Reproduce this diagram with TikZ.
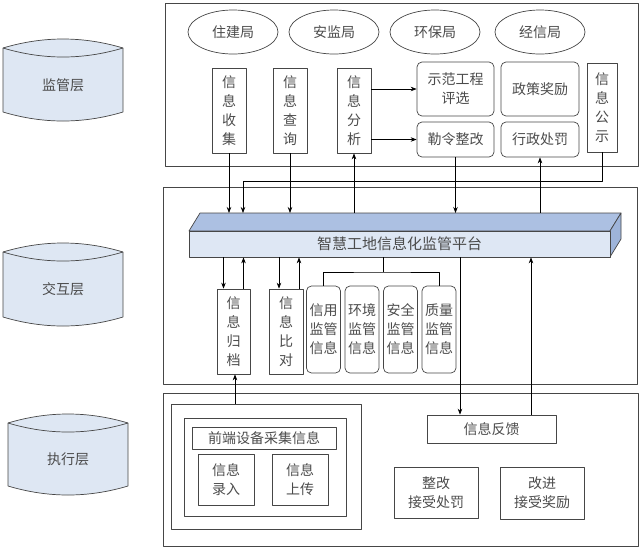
\documentclass[tikz,border=0pt]{standalone}
\usepackage{fontspec}
\setmainfont{Noto Sans CJK SC}
\usetikzlibrary{arrows.meta,shapes.geometric}
\definecolor{linegray}{RGB}{70,70,70}
\definecolor{txtgray}{RGB}{75,75,75}
\definecolor{layerblue}{RGB}{222,231,243}
\definecolor{platfront}{RGB}{222,231,244}
\definecolor{plattop}{RGB}{172,192,226}
\definecolor{platside}{RGB}{158,180,218}
\begin{document}
\begin{tikzpicture}[x=1pt,y=-1pt,line join=round,>={Stealth[length=6pt,width=4.5pt]},line width=.7pt]
	\tikzset{every node/.style={text=txtgray,font=\fontsize{14}{19}\selectfont},
		box/.style={draw=linegray,inner sep=0pt,align=center},
		rbox/.style={box,rounded corners=5pt},
		org/.style={ellipse,draw=linegray,minimum width=90,minimum height=44,inner sep=0pt}}
	\useasboundingbox (0,0) rectangle (641,550);
	% layers on the left
	\foreach \lx/\ly/\lh/\lname/\ltext in {3/48/64/sup/监管层,3/252/65/inter/交互层,8/423/63/exec/执行层}{
		\filldraw[draw=linegray,fill=layerblue] (\lx,\ly) .. controls +(40,-12) and +(-40,-12) .. (\lx+120,\ly) -- (\lx+120,\ly+\lh) .. controls +(-40,12) and +(40,12) .. (\lx,\ly+\lh) -- cycle;
		\draw[linegray] (\lx,\ly) .. controls +(40,12) and +(-40,12) .. (\lx+120,\ly);
		\node (\lname) at (\lx+60,\ly+\lh/2+5) {\ltext};
	}
	% frames
	\draw[linegray] (165,3) rectangle (638,166);
	\draw[linegray] (163,187) rectangle (637,384);
	\draw[linegray] (163,393) rectangle (638,546);
	% supervision layer
	\foreach \ox/\oname/\otext in {233/zj/住建局,334/aj/安监局,435/hb/环保局,540/jx/经信局}
	\node[org] (\oname) at (\ox,32) {\otext};
	\node[box,minimum width=34,minimum height=85] (collect) at (229,110.5) {信\\息\\收\\集};
	\node[box,minimum width=34,minimum height=85] (query) at (290,110.5) {信\\息\\查\\询};
	\node[box,minimum width=34,minimum height=85] (anal) at (354,110.5) {信\\息\\分\\析};
	\node[box,minimum width=30,minimum height=89] (notice) at (602,107.5) {信\\息\\公\\示};
	\node[rbox,minimum width=77,minimum height=54] (demo) at (455.5,89) {示范工程\\评选};
	\node[rbox,minimum width=77,minimum height=35] (order) at (455.5,139.5) {勒令整改};
	\node[rbox,minimum width=78,minimum height=54] (reward) at (540,89) {政策奖励};
	\node[rbox,minimum width=78,minimum height=35] (punish) at (540,139.5) {行政处罚};
	% platform
	\filldraw[draw=linegray,fill=plattop] (189,231) -- (200,213) -- (621,213) -- (610,231) -- cycle;
	\filldraw[draw=linegray,fill=platside] (610,231) -- (621,213) -- (621,239) -- (610,257) -- cycle;
	\node[box,fill=platfront,minimum width=421,minimum height=26,font=\fontsize{15}{17}\selectfont] (plat) at (399.5,244) {智慧工地信息化监管平台};
	\coordinate (ptop) at (400,213);
	% interaction layer
	\node[box,minimum width=33,minimum height=85] (archive) at (233.5,331.5) {信\\息\\归\\档};
	\node[box,minimum width=34,minimum height=85] (compare) at (286,331.5) {信\\息\\比\\对};
	\foreach \ix/\iname/\itext in {323.5/credit/信用,362/env/环境,400.5/safe/安全,439/quality/质量}
	\node[rbox,minimum width=34,minimum height=87] (\iname) at (\ix,329.5) {\itext\\监管\\信息};
	% execution layer
	\node[box,minimum width=190,minimum height=125] (dev) at (266,466.5) {};
	\node[box,minimum width=162,minimum height=98] (devin) at (265,467) {};
	\node[box,minimum width=144,minimum height=22] (front) at (264,438) {前端设备采集信息};
	\node[box,minimum width=56,minimum height=51] (input) at (226,479.5) {信息\\录入};
	\node[box,minimum width=56,minimum height=51] (upload) at (300,479.5) {信息\\上传};
	\node[box,minimum width=129,minimum height=28] (feedback) at (491.5,429) {信息反馈};
	\node[box,minimum width=84,minimum height=51] (fix) at (436,492.5) {整改\\接受处罚};
	\node[box,minimum width=84,minimum height=52] (improve) at (542,493) {改进\\接受奖励};
	% connectors
	\coordinate (j1) at (243,181);
	\draw[->] (collect.south) -- (collect.south |- ptop);
	\draw[->] (query.south) -- (query.south |- ptop);
	\draw[->] (notice.south) |- (j1) -- (j1 |- ptop);
	\draw[->] (anal.south |- ptop) -- (anal.south);
	\draw[->] (order.south) -- (order.south |- ptop);
	\draw[->] (punish.south |- ptop) -- (punish.south);
	\draw[->] (anal.east |- demo) -- (demo.west);
	\draw[->] (anal.east |- order) -- (order.west);
	\coordinate (a1) at ([xshift=-10pt]archive.north);
	\coordinate (a2) at ([xshift=10pt]archive.north);
	\coordinate (c1) at ([xshift=-7pt]compare.north);
	\coordinate (c2) at ([xshift=13pt]compare.north);
	\draw[->] (a1 |- plat.south) -- (a1);
	\draw[->] (a2) -- (a2 |- plat.south);
	\draw[->] (c1 |- plat.south) -- (c1);
	\draw[->] (c2) -- (c2 |- plat.south);
	\coordinate (b0) at (383,272);
	\draw (b0 |- plat.south) -- (b0);
	\draw (credit.north) |- (b0) -| (quality.north);
	\coordinate (f1) at ([xshift=-31.5pt]feedback.north);
	\coordinate (f2) at ([xshift=39.5pt]feedback.north);
	\draw[->] (f1 |- plat.south) -- (f1);
	\draw[->] (f2) -- (f2 |- plat.south);
	\coordinate (d1) at ([xshift=-31pt]dev.north);
	\draw[->] (d1) -- (d1 |- archive.south);
\end{tikzpicture}
\end{document}
